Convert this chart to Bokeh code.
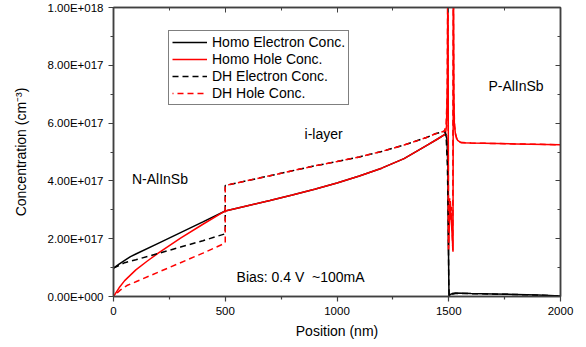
from bokeh.plotting import figure
from bokeh.models import LinearAxis, FixedTicker, Legend, LegendItem, Label, Range1d
from bokeh.embed import file_html
from bokeh.resources import INLINE

# ---------------- data (concentration in units of 1e17 cm^-3) ----------------
x_ticks = [0, 500, 1000, 1500, 2000]
x_minor = [250, 750, 1250, 1750]
y_ticks = [0, 2, 4, 6, 8, 10]
y_minor = [1, 3, 5, 7, 9]
y_tick_labels = ["0.00E+000", "2.00E+017", "4.00E+017", "6.00E+017", "8.00E+017", "1.00E+018"]

homo_e_x = [0, 25, 50, 76, 100, 200, 300, 400, 500, 600, 700, 800, 900, 1000, 1100, 1200,
            1300, 1400, 1450, 1485, 1492, 1496, 1499, 1501, 1505, 1515, 1530, 1600, 1700,
            1800, 1900, 2000]
homo_e_y = [0.98, 1.12, 1.25, 1.38, 1.47, 1.84, 2.21, 2.58, 2.96, 3.14, 3.32, 3.51, 3.71, 3.93,
            4.17, 4.44, 4.77, 5.22, 5.45, 5.62, 5.45, 4.5, 1.5, 0.02, 0.06, 0.1, 0.12, 0.1,
            0.09, 0.07, 0.05, 0.02]

homo_h_x = [0, 25, 50, 100, 150, 200, 300, 400, 500, 600, 700, 800, 900, 1000, 1100, 1200,
            1300, 1400, 1450, 1485, 1490, 1494, 1496.5, 1499, 1503, 1507, 1511, 1516, 1519,
            1521, 1523, 1525, 1530, 1540, 1555, 1600, 1800, 2000]
homo_h_y = [0.0, 0.3, 0.55, 0.92, 1.22, 1.5, 2.02, 2.5, 2.96, 3.14, 3.32, 3.51, 3.71, 3.93,
            4.17, 4.44, 4.77, 5.22, 5.45, 5.62, 5.9, 7.5, 12.0, 1.6, 2.6, 3.3, 2.7, 2.0, 1.55,
            12.0, 7.0, 6.0, 5.6, 5.4, 5.32, 5.31, 5.28, 5.25]

dh_e_x = [0, 50, 100, 200, 300, 400, 500, 500, 600, 700, 800, 900, 1000, 1100, 1200, 1300,
          1400, 1440, 1480, 1488, 1494, 1498, 1500, 1502, 1510, 1530, 1600, 1800, 2000]
dh_e_y = [0.98, 1.17, 1.27, 1.49, 1.71, 1.93, 2.17, 3.84, 4.01, 4.18, 4.35, 4.52, 4.67, 4.83,
          5.02, 5.24, 5.5, 5.63, 5.72, 5.6, 4.5, 2.5, 0.5, 0.02, 0.07, 0.1, 0.1, 0.07, 0.02]

dh_h_x = [0, 30, 60, 100, 200, 300, 400, 500, 500, 600, 700, 800, 900, 1000, 1100, 1200, 1300,
          1400, 1440, 1480, 1488, 1493, 1496, 1499, 1504, 1508, 1513, 1518, 1520, 1522.5,
          1526, 1535, 1550, 1600, 1800, 2000]
dh_h_y = [0.0, 0.22, 0.38, 0.51, 0.84, 1.17, 1.5, 1.85, 3.84, 4.01, 4.18, 4.35, 4.52, 4.67,
          4.83, 5.02, 5.24, 5.5, 5.63, 5.72, 5.9, 7.0, 12.0, 1.65, 3.4, 2.6, 3.1, 1.6, 12.0, 7.0,
          5.9, 5.45, 5.34, 5.31, 5.28, 5.25]

series_names = ["Homo Electron Conc.", "Homo Hole Conc.", "DH Electron Conc.", "DH Hole Conc."]

region_labels = ["N-AlInSb", "i-layer", "P-AlInSb", "Bias: 0.4 V\u00a0 ~100mA"]
region_label_x = [208, 940, 1801, 837]
region_label_y = [4.08, 5.62, 7.3, 0.66]

# ---------------- figure ----------------
FONT = "Liberation Sans"
AX = "#404040"

p = figure(width=586, height=347, x_range=Range1d(0, 2000), y_range=Range1d(0, 10),
           output_backend="svg", toolbar_location=None,
           min_border_left=113, min_border_right=26, min_border_top=7, min_border_bottom=51)
p.grid.visible = False
p.outline_line_color = AX
p.outline_line_width = 1.5
p.background_fill_color = "white"
p.border_fill_color = "white"

xa = p.xaxis[0]
xa.ticker = FixedTicker(ticks=x_ticks, minor_ticks=x_minor)
xa.axis_label = "Position (nm)"
ya = p.yaxis[0]
ya.ticker = FixedTicker(ticks=y_ticks, minor_ticks=y_minor)
ya.major_label_overrides = {t: l for t, l in zip(y_ticks, y_tick_labels)}
ya.axis_label = "Concentration (cm\u207b\u00b3)"
ya.axis_label_standoff = 16

for ax in (xa, ya):
    ax.axis_line_color = AX
    ax.axis_line_width = 1.5
    ax.major_tick_line_color = AX
    ax.minor_tick_line_color = AX
    ax.major_tick_line_width = 1.2
    ax.minor_tick_line_width = 1.2
    ax.major_tick_out = 5
    ax.major_tick_in = 0
    ax.minor_tick_out = 3
    ax.minor_tick_in = 0
    ax.major_label_text_font = FONT
    ax.major_label_text_font_size = "11.5px"
    ax.major_label_text_color = "black"
    ax.major_label_standoff = 5
    ax.axis_label_text_font = FONT
    ax.axis_label_text_font_size = "14px"
    ax.axis_label_text_font_style = "normal"
    ax.axis_label_text_color = "black"

# frame ticks on top and right (pointing inwards, no labels)
top = LinearAxis(ticker=FixedTicker(ticks=x_ticks, minor_ticks=x_minor))
right = LinearAxis(ticker=FixedTicker(ticks=y_ticks, minor_ticks=y_minor))
for ax in (top, right):
    ax.axis_line_color = AX
    ax.axis_line_width = 1.5
    ax.major_tick_line_color = AX
    ax.minor_tick_line_color = AX
    ax.major_tick_in = 5
    ax.major_tick_out = 0
    ax.minor_tick_in = 3
    ax.minor_tick_out = 0
    ax.major_label_text_font_size = "0px"
    ax.major_label_text_color = None
    ax.major_label_standoff = 0
p.add_layout(top, "above")
p.add_layout(right, "right")

# ---------------- lines ----------------
r_he = p.line(homo_e_x, homo_e_y, line_color="black", line_width=1.5)
r_hh = p.line(homo_h_x, homo_h_y, line_color="#ff0000", line_width=1.5)
r_de = p.line(dh_e_x, dh_e_y, line_color="black", line_width=1.5, line_dash="6 4")
r_dh = p.line(dh_h_x, dh_h_y, line_color="#ff0000", line_width=1.5, line_dash="6 4",
              line_dash_offset=5)

legend = Legend(items=[LegendItem(label=n, renderers=[r]) for n, r in
                       zip(series_names, [r_he, r_hh, r_de, r_dh])])
legend.location = (55, 191)
legend.label_text_font = FONT
legend.label_text_font_size = "14px"
legend.label_text_color = "black"
legend.glyph_width = 35
legend.glyph_height = 16
legend.label_height = 16
legend.spacing = 1
legend.padding = 3
legend.margin = 0
legend.label_standoff = 5
legend.border_line_color = "black"
legend.border_line_width = 1
legend.background_fill_alpha = 1
p.add_layout(legend, "center")

for t, lx, ly in zip(region_labels, region_label_x, region_label_y):
    p.add_layout(Label(x=lx, y=ly, text=t, text_font=FONT, text_font_size="14px",
                       text_align="center", text_baseline="middle", text_color="black"))

open("out.html", "w").write(file_html(p, INLINE))
